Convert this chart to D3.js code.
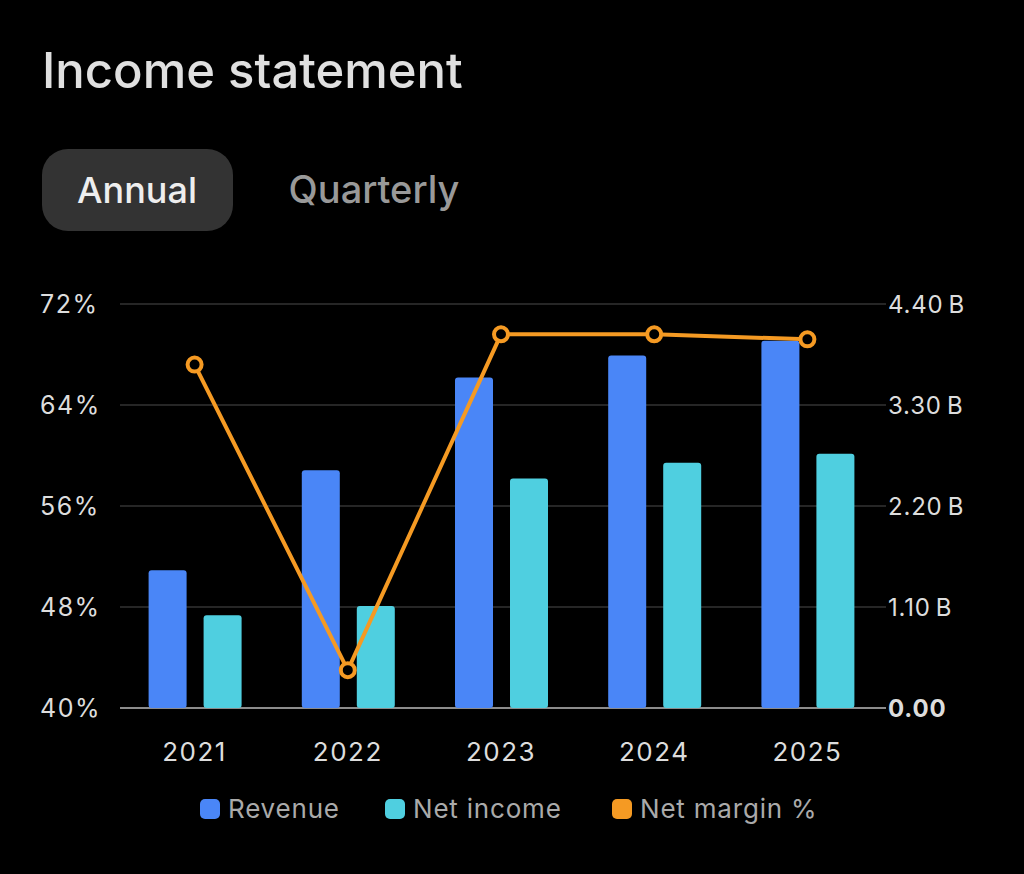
<!DOCTYPE html>
<html><head><meta charset="utf-8">
<script src="https://cdn.jsdelivr.net/npm/d3@7"></script>
<style>body{margin:0;background:#000}</style>
</head><body>
<svg id="c" width="1024" height="874"></svg>
<script>
const years = ['2021', '2022', '2023', '2024', '2025']
const revenue = [1.50, 2.59, 3.60, 3.84, 4.00]
const netIncome = [1.01, 1.11, 2.50, 2.67, 2.77]
const netMargin = [67.2, 43.0, 69.6, 69.6, 69.2]
const leftTicks = [40, 48, 56, 64, 72]
const rightTicks = [0, 1.1, 2.2, 3.3, 4.4]

const font = 'Inter, "Noto Sans", sans-serif'
const svg = d3.select('#c').style('font-family', font)
svg.append('rect').attr('width', 1024).attr('height', 874).attr('fill', '#000')

svg.append('text').attr('x', 42).attr('y', 88).attr('fill', '#e0e0e0')
  .attr('font-size', 49).attr('font-weight', 500).text('Income statement')
svg.append('rect').attr('x', 42).attr('y', 149).attr('width', 191).attr('height', 82)
  .attr('rx', 26).attr('fill', '#333')
svg.append('text').attr('x', 137).attr('y', 203).attr('text-anchor', 'middle')
  .attr('fill', '#eee').attr('font-size', 36).attr('font-weight', 500).text('Annual')
svg.append('text').attr('x', 374).attr('y', 203).attr('text-anchor', 'middle')
  .attr('fill', '#999').attr('font-size', 38).attr('font-weight', 500).text('Quarterly')

const x = d3.scaleBand().domain(years).range([120, 886])
const yL = d3.scaleLinear().domain([40, 72]).range([708, 304])
const yR = d3.scaleLinear().domain([0, 4.4]).range([708, 304])

svg.selectAll('line.grid').data(leftTicks.slice(1)).enter().append('line')
  .attr('x1', 120).attr('x2', 886).attr('y1', d => yL(d)).attr('y2', d => yL(d))
  .attr('stroke', '#333').attr('stroke-width', 1.5)
svg.append('line').attr('x1', 120).attr('x2', 886).attr('y1', 708).attr('y2', 708)
  .attr('stroke', '#bbb').attr('stroke-width', 1.5)

svg.selectAll('text.lt').data(leftTicks).enter().append('text')
  .attr('x', 40).attr('y', d => yL(d) + 9).attr('fill', '#ddd').attr('font-size', 25)
  .attr('letter-spacing', 1.5).text(d => d + '%')
svg.selectAll('text.rt').data(rightTicks).enter().append('text')
  .attr('x', 888).attr('y', d => yR(d) + 9).attr('fill', '#ddd').attr('font-size', 24)
  .attr('letter-spacing', 0.8).attr('font-weight', d => d === 0 ? 700 : 400)
  .text(d => d === 0 ? '0.00' : d.toFixed(2) + '\u2009B')
svg.selectAll('text.xt').data(years).enter().append('text')
  .attr('x', d => x(d) + x.bandwidth() / 2 - 2).attr('y', 761).attr('text-anchor', 'middle')
  .attr('fill', '#ddd').attr('font-size', 26).attr('letter-spacing', 1.5).text(d => d)

const bw = 38
const c = d => x(d) + x.bandwidth() / 2 - 2
svg.selectAll('rect.rev').data(years).enter().append('rect')
  .attr('x', d => c(d) - bw - 8).attr('width', bw)
  .attr('y', (d, i) => yR(revenue[i])).attr('height', (d, i) => 708 - yR(revenue[i]))
  .attr('rx', 3).attr('fill', '#4a86f7')
svg.selectAll('rect.ni').data(years).enter().append('rect')
  .attr('x', d => c(d) + 9).attr('width', bw)
  .attr('y', (d, i) => yR(netIncome[i])).attr('height', (d, i) => 708 - yR(netIncome[i]))
  .attr('rx', 3).attr('fill', '#4fcfe0')

const line = d3.line().x(d => c(d[0])).y(d => yL(d[1]))
const pts = years.map((y, i) => [y, netMargin[i]])
svg.append('path').attr('d', line(pts)).attr('fill', 'none')
  .attr('stroke', '#f59a23').attr('stroke-width', 4)
svg.selectAll('circle.m').data(pts).enter().append('circle')
  .attr('cx', d => c(d[0])).attr('cy', d => yL(d[1])).attr('r', 7)
  .attr('fill', '#000').attr('stroke', '#f59a23').attr('stroke-width', 4)

const legend = [['Revenue', '#4a86f7', 200], ['Net income', '#4fcfe0', 385], ['Net margin %', '#f59a23', 612]]
legend.forEach(([t, col, lx]) => {
  svg.append('rect').attr('x', lx).attr('y', 799).attr('width', 20).attr('height', 20)
    .attr('rx', 5).attr('fill', col)
  svg.append('text').attr('x', lx + 28).attr('y', 818).attr('fill', '#aaa')
    .attr('font-size', 26).attr('letter-spacing', 0.8).text(t)
})
</script>
</body></html>
